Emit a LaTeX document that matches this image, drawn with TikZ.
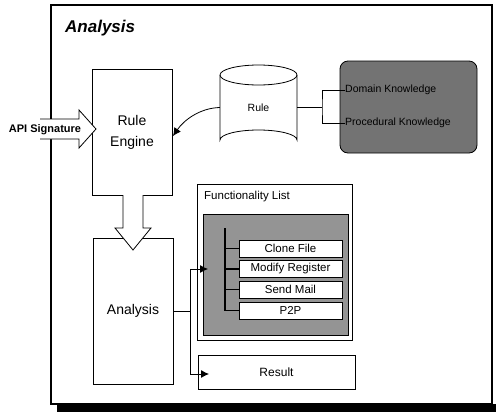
\documentclass[tikz,border=0pt]{standalone}
\usepackage{fontspec}
\setmainfont{Liberation Sans}
\usetikzlibrary{arrows.meta,calc}
\begin{document}
\begin{tikzpicture}[x=1pt,y=-1pt,
  box/.style={draw,line width=0.8pt,fill=white,inner sep=0pt,align=center,font=\fontsize{14}{21}\selectfont},
  item/.style={draw,line width=0.9pt,fill=white,inner sep=0pt,minimum width=103pt,minimum height=17pt,font=\fontsize{11.5}{13}\selectfont},
  lbl/.style={inner sep=0pt,font=\fontsize{10.5}{12}\selectfont},
  arr/.style={-{Latex[length=8pt,width=8pt]},line width=0.8pt},
  thin/.style={line width=0.8pt}]
\useasboundingbox (0,0) rectangle (496,413);
% frame
\fill (57,404) rectangle (496,412);
\draw[line width=1.6pt] (51,5) rectangle (492,404);
\node[anchor=west,inner sep=0pt,font=\fontsize{17}{20}\selectfont\bfseries\itshape] (title) at (65,28) {Analysis};

% rule engine and analysis boxes
\node[box,minimum width=80pt,minimum height=126pt] (eng) at (132,132) {Rule\\Engine};
\node[box,minimum width=80pt,minimum height=146pt] (ana) at (133,311) {Analysis};

% cylinder
\node[minimum width=77pt,minimum height=85pt,inner sep=0pt,font=\fontsize{10.5}{12}\selectfont] (rule) at (258.5,107.5) {Rule};
\draw[thin] (220,75) -- (220,140) arc[start angle=180,end angle=360,x radius=38.5pt,y radius=-10pt] -- (297,75);
\draw[thin] (258.5,75) ellipse[x radius=38.5pt,y radius=10pt];

% knowledge box
\node[draw,thin,fill=black!55,rounded corners=8pt,minimum width=137pt,minimum height=92pt] (know) at (408.5,107) {};
\node[lbl,anchor=west] (dom) at (345,90) {Domain Knowledge};
\node[lbl,anchor=west] (proc) at (345,123) {Procedural Knowledge};
\coordinate (br) at (322,107.5);
\draw[thin] (rule.east) -- (br);
\draw[thin] (dom.west) -| (br) |- (proc.west);

% curve rule -> engine
\coordinate (engin) at (173,136);
\draw[arr] (rule.west) .. controls (200,108) and (184,120) .. (engin);

% API signature arrow
\coordinate (apitip) at (96,129);
\draw[thin,fill=white] (40,119) -- (79,119) -- (79,110) -- (apitip) -- (79,148) -- (79,139) -- (40,139);
\node[inner sep=0pt,font=\fontsize{11}{13}\selectfont\bfseries] (api) at (45,130) {API Signature};

% down block arrow
\draw[thin,fill=white] (123,195) -- (123,228) -- (115,228) -- (133,250) -- (151,228) -- (143,228) -- (143,195);

% functionality list
\node[draw,thin,fill=white,minimum width=155pt,minimum height=156pt] (fl) at (274.5,262) {};
\node[anchor=west,inner sep=0pt,font=\fontsize{11.5}{13}\selectfont] (fltitle) at (204,197) {Functionality List};
\node[draw,thin,fill=black!42,minimum width=145pt,minimum height=121pt] (flin) at (275.5,274.5) {};
\node[item] (i1) at (290.5,248.5) {Clone File};
\node[item] (i2) at (290.5,269) {Modify Register};
\node[item] (i3) at (290.5,289.5) {Send Mail};
\node[item] (i4) at (290.5,310.5) {P2P};
\coordinate (tr) at (225,228);
\draw[line width=1.2pt] (tr) |- (i4.west);
\draw[line width=1.2pt] (tr |- i1.west) -- (i1.west);
\draw[line width=1.2pt] (tr |- i2.west) -- (i2.west);
\draw[line width=1.2pt] (tr |- i3.west) -- (i3.west);

% result
\node[draw,thin,fill=white,minimum width=157pt,minimum height=34pt,font=\fontsize{12}{14}\selectfont] (res) at (276.5,372) {Result};

% analysis outputs
\coordinate (split) at (190,311);
\coordinate (fltgt) at (208,269);
\coordinate (restgt) at (209,374);
\draw[thin] (ana.east) -- (split);
\draw[arr] (split) |- (fltgt);
\draw[arr] (split) |- (restgt);
\end{tikzpicture}
\end{document}
